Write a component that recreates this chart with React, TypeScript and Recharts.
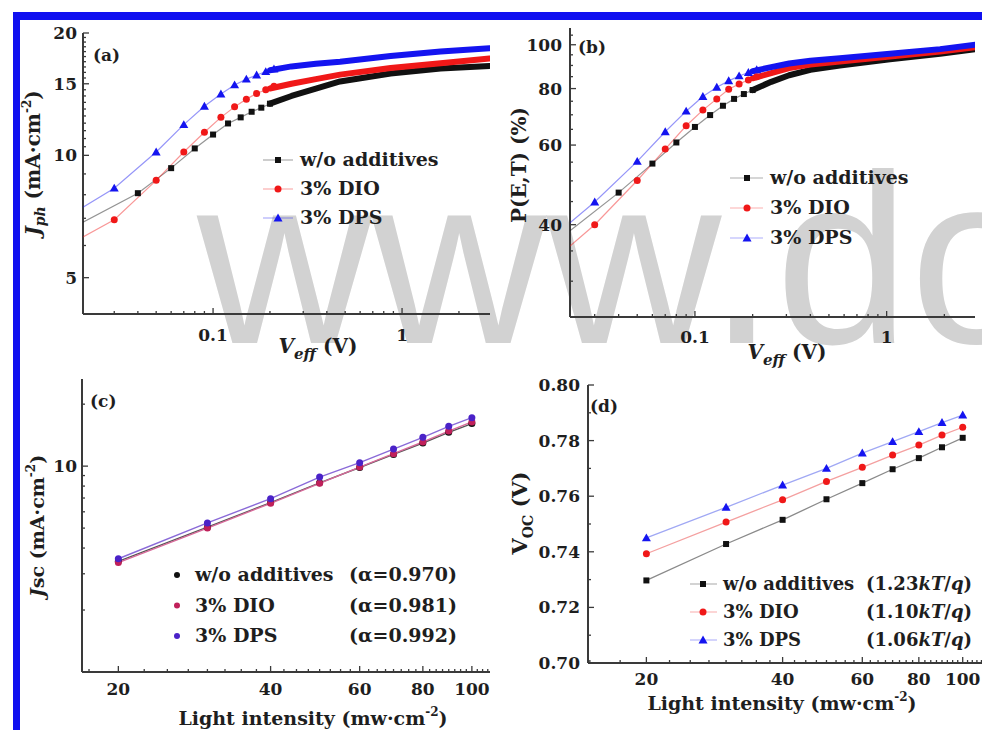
import React from 'react';
import { ScatterChart, Scatter, XAxis, YAxis } from 'recharts';

const SERIF = '"DejaVu Serif", "Liberation Serif", serif';
const INK = '#1e1e1e';
const AXIS = '#3a3a3a';
const BLACK = '#111111';
const RED = '#f01818';
const BLUE = '#1414f0';

// ---------- (a) Jph vs Veff ----------
const aVeffBlack = [0.04, 0.06, 0.08, 0.1, 0.12, 0.14, 0.16, 0.18, 0.2];
const aJphBlack = [8.07, 9.3, 10.4, 11.25, 11.98, 12.4, 12.8, 13.1, 13.4];
const aVeffColor = [0.03, 0.05, 0.07, 0.09, 0.11, 0.13, 0.15, 0.17, 0.19, 0.21];
const aJphRed = [6.94, 8.68, 10.19, 11.4, 12.4, 13.16, 13.75, 14.2, 14.5, 14.8];
const aJphBlue = [8.3, 10.19, 11.9, 13.2, 14.15, 14.9, 15.4, 15.76, 16.06, 16.3];
const aVeffDense = [0.2, 0.26, 0.35, 0.47, 0.87, 1.6, 2.9];
const aJphBlackDense = [13.4, 14.0, 14.6, 15.2, 15.9, 16.35, 16.6];
const aJphRedDense = [14.6, 15.0, 15.4, 15.8, 16.4, 16.85, 17.3];
const aJphBlueDense = [16.2, 16.55, 16.8, 17.0, 17.55, 18.0, 18.35];
const aVeffEdge = 0.0205;
const aJphEdgeBlack = 6.85;
const aJphEdgeRed = 6.3;
const aJphEdgeBlue = 7.45;
const aXDomain = [0.0205, 2.92];
const aYDomain = [4.07, 20];
const aXTicks = [0.03, 0.04, 0.05, 0.06, 0.07, 0.08, 0.09, 0.1, 0.2, 0.3, 0.4, 0.5, 0.6, 0.7, 0.8, 0.9, 1, 2];
const aXLabels = [0.1, 1];
const aYTicks = [5, 6, 7, 8, 9, 10, 10.5, 11, 11.5, 12, 12.5, 13, 13.5, 14, 14.5, 15, 15.5, 16, 16.5, 17, 17.5, 18, 18.5, 19, 19.5, 20];
const aYLabels = [5, 10, 15, 20];

// ---------- (b) P(E,T) vs Veff ----------
const bPBlack = [47.1, 54.6, 60.8, 65.8, 69.9, 73.3, 75.9, 77.8, 79.4];
const bPRed = [40.0, 50.1, 58.8, 66.2, 71.7, 75.9, 79.7, 81.9, 83.6, 85.0];
const bPBlue = [44.9, 55.2, 64.2, 71.3, 76.8, 80.5, 83.2, 85.3, 86.8, 88.0];
const bVeffDense = [0.2, 0.25, 0.31, 0.4, 0.57, 1.04, 1.9, 2.9];
const bPBlackDense = [79.4, 82.8, 85.6, 88.0, 90.0, 92.9, 95.5, 97.8];
const bPRedDense = [84.3, 86.5, 88.8, 90.4, 91.8, 94.2, 96.6, 98.8];
const bPBlueDense = [87.4, 89.2, 90.9, 92.2, 93.4, 95.5, 97.8, 100];
const bVeffEdge = 0.0223;
const bPEdgeBlack = 38.8;
const bPEdgeRed = 35.9;
const bPEdgeBlue = 40.4;
const bXDomain = [0.0223, 2.89];
const bYDomain = [25, 108.9];
const bYTicks = [25, 30, 35, 40, 45, 50, 55, 60, 65, 70, 75, 80, 85, 90, 95, 100, 105];
const bYLabels = [40, 60, 80, 100];

// ---------- (c) Jsc vs light intensity ----------
const intensity = [20, 30, 40, 50, 60, 70, 80, 90, 100];
const cJscBlack = [3.45, 5.05, 6.65, 8.3, 9.85, 11.4, 12.95, 14.6, 16.1];
const cJscRed = [3.4, 5.0, 6.6, 8.25, 9.9, 11.5, 13.1, 14.8, 16.4];
const cJscBlue = [3.55, 5.3, 6.95, 8.85, 10.4, 12.1, 13.8, 15.6, 17.2];
const cXDomain = [16.95, 108.6];
const cYDomain = [1.0, 26.5];
const cXTicks = [17.5, 20, 22.5, 25, 27.5, 30, 32.5, 35, 37.5, 40, 42.5, 45, 47.5, 50, 52.5, 55, 57.5, 60, 62.5, 65, 67.5, 70, 72.5, 75, 77.5, 80, 82.5, 85, 87.5, 90, 92.5, 95, 97.5, 100, 102.5, 105, 107.5];
const intensityLabels = [20, 40, 60, 80, 100];
const cYTicks = [2, 3, 4, 5, 6, 7, 8, 9, 10, 20];
const cYLabels = [10];

// ---------- (d) Voc vs light intensity ----------
const dVocBlack = [0.7297, 0.7428, 0.7515, 0.7589, 0.7647, 0.7697, 0.7737, 0.7776, 0.781];
const dVocRed = [0.7393, 0.7507, 0.7587, 0.7653, 0.7704, 0.7748, 0.7784, 0.782, 0.7848];
const dVocBlue = [0.745, 0.756, 0.764, 0.77, 0.7755, 0.7796, 0.7832, 0.7865, 0.7892];
const dXDomain = [14.86, 114.9];
const dYDomain = [0.7, 0.8];
const dXTicks = [15, 17.5, 20, 22.5, 25, 27.5, 30, 32.5, 35, 37.5, 40, 42.5, 45, 47.5, 50, 52.5, 55, 57.5, 60, 62.5, 65, 67.5, 70, 72.5, 75, 77.5, 80, 82.5, 85, 87.5, 90, 92.5, 95, 97.5, 100, 102.5, 105, 107.5, 110, 112.5];
const dYTicks = [0.7, 0.71, 0.72, 0.73, 0.74, 0.75, 0.76, 0.77, 0.78, 0.79, 0.8];
const dYLabels = [0.7, 0.72, 0.74, 0.76, 0.78, 0.8];

const legendNames = ['w/o additives', '3% DIO', '3% DPS'];
const alphaTexts = ['(\u03b1=0.970)', '(\u03b1=0.981)', '(\u03b1=0.992)'];
const idealityFactors = ['1.23', '1.10', '1.06'];

const pts = (xs: number[], ys: number[]) => xs.map((x, i) => ({ x, y: ys[i] }));

const NoDot = () => <g />;
const square = (color: string, s = 6) => (p: any) => (
  <rect x={p.cx - s / 2} y={p.cy - s / 2} width={s} height={s} fill={color} />
);
const circle = (color: string, r = 3.5) => (p: any) => <circle cx={p.cx} cy={p.cy} r={r} fill={color} />;
const triangle = (color: string, s = 4.5) => (p: any) => (
  <polygon points={`${p.cx},${p.cy - s} ${p.cx - s},${p.cy + s * 0.75} ${p.cx + s},${p.cy + s * 0.75}`} fill={color} />
);

const fmtNum = (v: number) => String(v);
const fmt2 = (v: number) => v.toFixed(2);

const xTick = (labels: number[], fmt: (v: number) => string, dy: number, size = 17) => (p: any) => {
  const v = p.payload.value;
  const major = labels.includes(v);
  return (
    <g>
      <line x1={p.x} x2={p.x} y1={p.y} y2={p.y - (major ? 6 : 3)} stroke={AXIS} strokeWidth={1.3} />
      {major && (
        <text x={p.x} y={p.y + dy} textAnchor="middle" fontFamily={SERIF} fontWeight="bold" fontSize={size} fill={INK}>
          {fmt(v)}
        </text>
      )}
    </g>
  );
};

const yTick = (labels: number[], fmt: (v: number) => string, gap: number, size = 17) => (p: any) => {
  const v = p.payload.value;
  const major = labels.includes(v);
  return (
    <g>
      <line x1={p.x} x2={p.x + (major ? 6 : 3)} y1={p.y} y2={p.y} stroke={AXIS} strokeWidth={1.3} />
      {major && (
        <text x={p.x - gap} y={p.y} textAnchor="end" dominantBaseline="central" fontFamily={SERIF} fontWeight="bold" fontSize={size} fill={INK}>
          {fmt(v)}
        </text>
      )}
    </g>
  );
};

const axisLine = { stroke: AXIS, strokeWidth: 2 };

function frameAxes(xDomain: number[], yDomain: number[], xScale: any, yScale: any) {
  return [
    <XAxis key="ft" xAxisId="top" orientation="top" dataKey="x" type="number" scale={xScale} domain={xDomain} allowDataOverflow height={0} tick={false} tickLine={false} axisLine={axisLine} />,
    <YAxis key="fr" yAxisId="right" orientation="right" dataKey="y" type="number" scale={yScale} domain={yDomain} allowDataOverflow width={0} tick={false} tickLine={false} axisLine={axisLine} />,
  ];
}

const faint = (color: string) => ({ stroke: color, strokeWidth: 1.2, strokeOpacity: 0.45 });
const thick = (color: string) => ({ stroke: color, strokeWidth: 6, strokeLinecap: 'round', strokeLinejoin: 'round' });

function PanelA() {
  return (
    <div style={{ position: 'absolute', left: 0, top: 0 }}>
      <ScatterChart width={500} height={370} margin={{ top: 33, right: 10, bottom: 0, left: 0 }}>
        <XAxis dataKey="x" type="number" scale="log" domain={aXDomain} allowDataOverflow ticks={aXTicks} interval={0} tickSize={0} tickMargin={0} tickLine={false} height={56} axisLine={axisLine} tick={xTick(aXLabels, fmtNum, 27)} />
        <YAxis dataKey="y" type="number" scale="log" domain={aYDomain} allowDataOverflow ticks={aYTicks} interval={0} tickSize={0} tickMargin={0} tickLine={false} width={83} axisLine={axisLine} tick={yTick(aYLabels, fmtNum, 6)} />
        {frameAxes(aXDomain, aYDomain, 'log', 'log')}
        <Scatter data={pts([aVeffEdge, ...aVeffBlack], [aJphEdgeBlack, ...aJphBlack])} shape={NoDot} line={faint(BLACK)} lineType="joint" isAnimationActive={false} />
        <Scatter data={pts([aVeffEdge, ...aVeffColor], [aJphEdgeRed, ...aJphRed])} shape={NoDot} line={faint(RED)} lineType="joint" isAnimationActive={false} />
        <Scatter data={pts([aVeffEdge, ...aVeffColor], [aJphEdgeBlue, ...aJphBlue])} shape={NoDot} line={faint(BLUE)} lineType="joint" isAnimationActive={false} />
        <Scatter data={pts(aVeffDense, aJphBlackDense)} shape={NoDot} line={thick(BLACK)} lineType="joint" isAnimationActive={false} />
        <Scatter data={pts(aVeffDense, aJphRedDense)} shape={NoDot} line={thick(RED)} lineType="joint" isAnimationActive={false} />
        <Scatter data={pts(aVeffDense, aJphBlueDense)} shape={NoDot} line={thick(BLUE)} lineType="joint" isAnimationActive={false} />
        <Scatter data={pts(aVeffBlack, aJphBlack)} shape={square(BLACK)} isAnimationActive={false} />
        <Scatter data={pts(aVeffColor, aJphRed)} shape={circle(RED)} isAnimationActive={false} />
        <Scatter data={pts(aVeffColor, aJphBlue)} shape={triangle(BLUE)} isAnimationActive={false} />
      </ScatterChart>
    </div>
  );
}

function PanelB() {
  return (
    <div style={{ position: 'absolute', left: 490, top: 0 }}>
      <ScatterChart width={492} height={370} margin={{ top: 28, right: 7, bottom: 0, left: 0 }}>
        <XAxis dataKey="x" type="number" scale="log" domain={bXDomain} allowDataOverflow ticks={aXTicks} interval={0} tickSize={0} tickMargin={0} tickLine={false} height={53} axisLine={axisLine} tick={xTick(aXLabels, fmtNum, 26)} />
        <YAxis dataKey="y" type="number" scale="log" domain={bYDomain} allowDataOverflow ticks={bYTicks} interval={0} tickSize={0} tickMargin={0} tickLine={false} width={80} axisLine={axisLine} tick={yTick(bYLabels, fmtNum, 8)} />
        {frameAxes(bXDomain, bYDomain, 'log', 'log')}
        <Scatter data={pts([bVeffEdge, ...aVeffBlack], [bPEdgeBlack, ...bPBlack])} shape={NoDot} line={faint(BLACK)} lineType="joint" isAnimationActive={false} />
        <Scatter data={pts([bVeffEdge, ...aVeffColor], [bPEdgeRed, ...bPRed])} shape={NoDot} line={faint(RED)} lineType="joint" isAnimationActive={false} />
        <Scatter data={pts([bVeffEdge, ...aVeffColor], [bPEdgeBlue, ...bPBlue])} shape={NoDot} line={faint(BLUE)} lineType="joint" isAnimationActive={false} />
        <Scatter data={pts(bVeffDense, bPBlackDense)} shape={NoDot} line={thick(BLACK)} lineType="joint" isAnimationActive={false} />
        <Scatter data={pts(bVeffDense, bPRedDense)} shape={NoDot} line={thick(RED)} lineType="joint" isAnimationActive={false} />
        <Scatter data={pts(bVeffDense, bPBlueDense)} shape={NoDot} line={thick(BLUE)} lineType="joint" isAnimationActive={false} />
        <Scatter data={pts(aVeffBlack, bPBlack)} shape={square(BLACK)} isAnimationActive={false} />
        <Scatter data={pts(aVeffColor, bPRed)} shape={circle(RED)} isAnimationActive={false} />
        <Scatter data={pts(aVeffColor, bPBlue)} shape={triangle(BLUE)} isAnimationActive={false} />
      </ScatterChart>
    </div>
  );
}

function PanelC() {
  return (
    <div style={{ position: 'absolute', left: 0, top: 370 }}>
      <ScatterChart width={500} height={360} margin={{ top: 9, right: 10, bottom: 0, left: 0 }}>
        <XAxis dataKey="x" type="number" scale="log" domain={cXDomain} allowDataOverflow ticks={cXTicks} interval={0} tickSize={0} tickMargin={0} tickLine={false} height={58} axisLine={axisLine} tick={xTick(intensityLabels, fmtNum, 23)} />
        <YAxis dataKey="y" type="number" scale="log" domain={cYDomain} allowDataOverflow ticks={cYTicks} interval={0} tickSize={0} tickMargin={0} tickLine={false} width={82} axisLine={axisLine} tick={yTick(cYLabels, fmtNum, 5)} />
        {frameAxes(cXDomain, cYDomain, 'log', 'log')}
        <Scatter data={pts(intensity, cJscBlack)} shape={NoDot} line={{ stroke: '#555555', strokeWidth: 1.4 }} lineType="joint" isAnimationActive={false} />
        <Scatter data={pts(intensity, cJscRed)} shape={NoDot} line={{ stroke: '#d86a9a', strokeWidth: 1.4 }} lineType="joint" isAnimationActive={false} />
        <Scatter data={pts(intensity, cJscBlue)} shape={NoDot} line={{ stroke: '#8a6ad8', strokeWidth: 1.4 }} lineType="joint" isAnimationActive={false} />
        <Scatter data={pts(intensity, cJscBlack)} shape={circle(BLACK, 3.5)} isAnimationActive={false} />
        <Scatter data={pts(intensity, cJscRed)} shape={circle('#c0205a', 3.5)} isAnimationActive={false} />
        <Scatter data={pts(intensity, cJscBlue)} shape={circle('#4a22c8', 3.5)} isAnimationActive={false} />
      </ScatterChart>
    </div>
  );
}

function PanelD() {
  return (
    <div style={{ position: 'absolute', left: 490, top: 370 }}>
      <ScatterChart width={510} height={360} margin={{ top: 15, right: 10, bottom: 0, left: 0 }}>
        <XAxis dataKey="x" type="number" scale="log" domain={dXDomain} allowDataOverflow ticks={dXTicks} interval={0} tickSize={0} tickMargin={0} tickLine={false} height={67} axisLine={axisLine} tick={xTick(intensityLabels, fmtNum, 22)} />
        <YAxis dataKey="y" type="number" domain={dYDomain} allowDataOverflow ticks={dYTicks} interval={0} tickSize={0} tickMargin={0} tickLine={false} width={98} axisLine={axisLine} tick={yTick(dYLabels, fmt2, 8)} />
        {frameAxes(dXDomain, dYDomain, 'log', 'linear')}
        <Scatter data={pts(intensity, dVocBlack)} shape={NoDot} line={{ stroke: '#8a8a8a', strokeWidth: 1.3 }} lineType="joint" isAnimationActive={false} />
        <Scatter data={pts(intensity, dVocRed)} shape={NoDot} line={{ stroke: '#f4a0a0', strokeWidth: 1.3 }} lineType="joint" isAnimationActive={false} />
        <Scatter data={pts(intensity, dVocBlue)} shape={NoDot} line={{ stroke: '#a0a8f4', strokeWidth: 1.3 }} lineType="joint" isAnimationActive={false} />
        <Scatter data={pts(intensity, dVocBlack)} shape={square(BLACK, 6)} isAnimationActive={false} />
        <Scatter data={pts(intensity, dVocRed)} shape={circle(RED, 3.5)} isAnimationActive={false} />
        <Scatter data={pts(intensity, dVocBlue)} shape={triangle(BLUE, 4.5)} isAnimationActive={false} />
      </ScatterChart>
    </div>
  );
}

const bold = { fontFamily: SERIF, fontWeight: 'bold' as const, fill: INK };

function LegendMark({ kind, x, y, color }: { kind: number; x: number; y: number; color: string }) {
  const p = { cx: x, cy: y };
  if (kind === 0) return square(color)(p);
  if (kind === 1) return circle(color)(p);
  return triangle(color)(p);
}

function Overlay() {
  const colors = [BLACK, RED, BLUE];
  return (
    <svg width={982} height={730} style={{ position: 'absolute', left: 0, top: 0, pointerEvents: 'none' }}>
      <text x={93} y={61} fontSize={17} {...bold}>(a)</text>
      <text x={578} y={53} fontSize={17} {...bold}>(b)</text>
      <text x={90} y={407} fontSize={17} {...bold}>(c)</text>
      <text x={590} y={412} fontSize={17} {...bold}>(d)</text>

      <text transform="translate(40,163) rotate(-90)" textAnchor="middle" fontSize={20} {...bold}>
        <tspan fontStyle="italic">J</tspan>
        <tspan fontStyle="italic" fontSize={14} dy={5}>ph</tspan>
        <tspan dy={-5}> (mA·cm</tspan>
        <tspan fontSize={12} dy={-9}>-2</tspan>
        <tspan dy={9}>)</tspan>
      </text>
      <text x={318} y={353} textAnchor="middle" fontSize={20} {...bold}>
        <tspan fontStyle="italic">V</tspan>
        <tspan fontStyle="italic" fontSize={15} dy={6}>eff</tspan>
        <tspan dy={-6}> (V)</tspan>
      </text>

      <text transform="translate(526,165) rotate(-90)" textAnchor="middle" fontSize={20} {...bold}>P(E,T) (%)</text>
      <text x={787} y={359} textAnchor="middle" fontSize={20} {...bold}>
        <tspan fontStyle="italic">V</tspan>
        <tspan fontStyle="italic" fontSize={15} dy={6}>eff</tspan>
        <tspan dy={-6}> (V)</tspan>
      </text>

      <text transform="translate(44,526) rotate(-90)" textAnchor="middle" fontSize={19} {...bold}>
        <tspan fontStyle="italic">J</tspan>
        <tspan>sc (mA·cm</tspan>
        <tspan fontSize={12} dy={-9}>-2</tspan>
        <tspan dy={9}>)</tspan>
      </text>
      <text x={313} y={725} textAnchor="middle" fontSize={19} {...bold}>
        <tspan>Light intensity (mw·cm</tspan>
        <tspan fontSize={12} dy={-9}>-2</tspan>
        <tspan dy={9}>)</tspan>
      </text>

      <text transform="translate(527,513) rotate(-90)" textAnchor="middle" fontSize={21} {...bold}>
        <tspan>V</tspan>
        <tspan fontSize={14} dy={6}>OC</tspan>
        <tspan dy={-6}> (V)</tspan>
      </text>
      <text x={782} y={710} textAnchor="middle" fontSize={19} {...bold}>
        <tspan>Light intensity (mw·cm</tspan>
        <tspan fontSize={12} dy={-9}>-2</tspan>
        <tspan dy={9}>)</tspan>
      </text>

      {legendNames.map((n, i) => (
        <g key={'la' + i}>
          <line x1={263} x2={293} y1={160 + i * 29} y2={160 + i * 29} stroke={colors[i]} strokeOpacity={0.35} strokeWidth={1.2} />
          <LegendMark kind={i} x={278} y={160 + i * 29} color={colors[i]} />
          <text x={300} y={166 + i * 29} fontSize={19} {...bold}>{n}</text>
        </g>
      ))}
      {legendNames.map((n, i) => (
        <g key={'lb' + i}>
          <line x1={730} x2={763} y1={178 + i * 30} y2={178 + i * 30} stroke={colors[i]} strokeOpacity={0.35} strokeWidth={1.2} />
          <LegendMark kind={i} x={747} y={178 + i * 30} color={colors[i]} />
          <text x={770} y={184 + i * 30} fontSize={19} {...bold}>{n}</text>
        </g>
      ))}
      {legendNames.map((n, i) => (
        <g key={'lc' + i}>
          <circle cx={177} cy={575 + i * 30.5} r={3} fill={[BLACK, '#c0205a', '#4a22c8'][i]} />
          <text x={195} y={581 + i * 30.5} fontSize={19} {...bold}>{n}</text>
          <text x={457} y={581 + i * 30.5} textAnchor="end" fontSize={19} {...bold}>{alphaTexts[i]}</text>
        </g>
      ))}
      {legendNames.map((n, i) => (
        <g key={'ld' + i}>
          <line x1={690} x2={717} y1={584 + i * 28} y2={584 + i * 28} stroke={colors[i]} strokeOpacity={0.3} strokeWidth={1.2} />
          <LegendMark kind={i} x={703} y={584 + i * 28} color={colors[i]} />
          <text x={723} y={590 + i * 28} fontSize={18} {...bold}>{n}</text>
          <text x={972} y={590 + i * 28} textAnchor="end" fontSize={18} {...bold}>
            <tspan>({idealityFactors[i]}</tspan>
            <tspan fontStyle="italic">kT</tspan>
            <tspan>/</tspan>
            <tspan fontStyle="italic">q</tspan>
            <tspan>)</tspan>
          </text>
        </g>
      ))}
    </svg>
  );
}

export default function App() {
  return (
    <div style={{ position: 'absolute', left: 0, top: 0, width: 982, height: 730, overflow: 'hidden', background: '#ffffff' }}>
      <svg width={982} height={730} style={{ position: 'absolute', left: 0, top: 0 }}>
        <text x={197} y={343} fontFamily='"Liberation Sans", Arial, sans-serif' fontSize={242} fill="#d2d2d2">www.do</text>
        <rect x={13} y={12} width={969} height={8} fill="#1010f0" />
        <rect x={13} y={12} width={7} height={718} fill="#1010f0" />
      </svg>
      <PanelA />
      <PanelB />
      <PanelC />
      <PanelD />
      <Overlay />
    </div>
  );
}
